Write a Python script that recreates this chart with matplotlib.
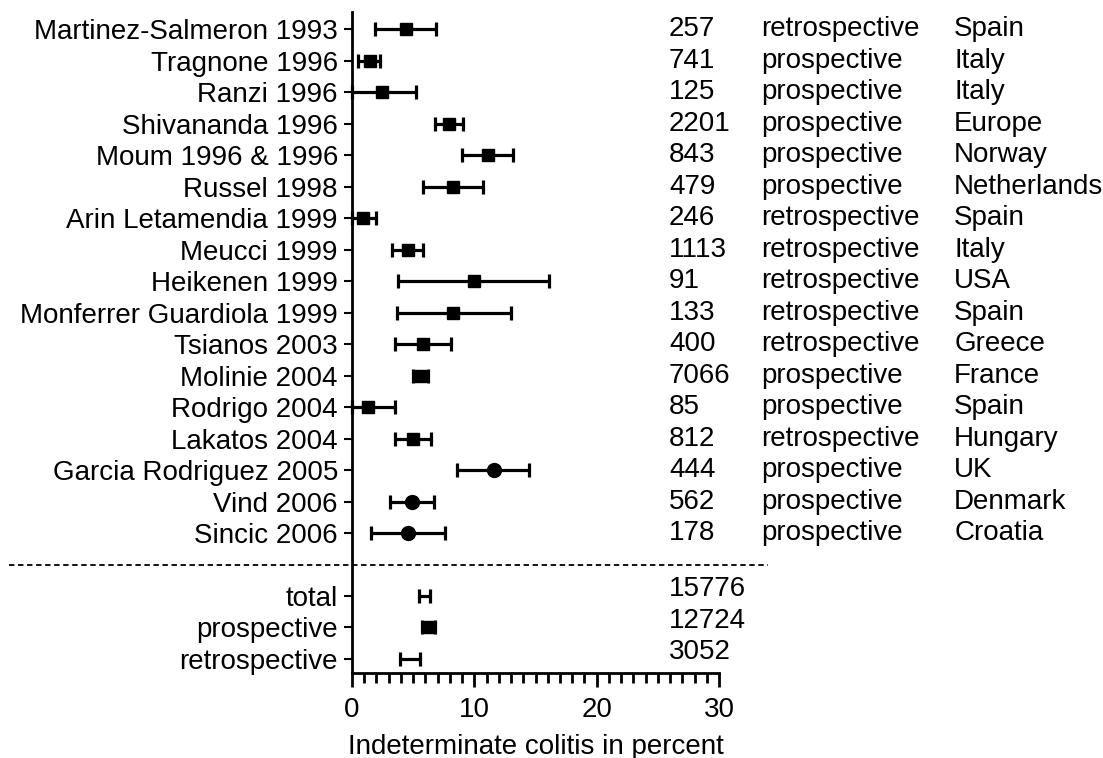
import numpy as np
import matplotlib
matplotlib.use("Agg")
import matplotlib.pyplot as plt
from matplotlib.ticker import MultipleLocator

plt.rcParams['font.family'] = ['Liberation Sans', 'DejaVu Sans']

# study data
studies = ["Martinez-Salmeron 1993", "Tragnone 1996", "Ranzi 1996", "Shivananda 1996",
           "Moum 1996 & 1996", "Russel 1998", "Arin Letamendia 1999", "Meucci 1999",
           "Heikenen 1999", "Monferrer Guardiola 1999", "Tsianos 2003", "Molinie 2004",
           "Rodrigo 2004", "Lakatos 2004", "Garcia Rodriguez 2005", "Vind 2006", "Sincic 2006"]
n_patients = [257, 741, 125, 2201, 843, 479, 246, 1113, 91, 133, 400, 7066, 85, 812, 444, 562, 178]
design = ["retrospective", "prospective", "prospective", "prospective", "prospective",
          "prospective", "retrospective", "retrospective", "retrospective", "retrospective",
          "retrospective", "prospective", "prospective", "retrospective", "prospective",
          "prospective", "prospective"]
country = ["Spain", "Italy", "Italy", "Europe", "Norway", "Netherlands", "Spain", "Italy",
           "USA", "Spain", "Greece", "France", "Spain", "Hungary", "UK", "Denmark", "Croatia"]
est = [4.4, 1.5, 2.5, 7.9, 11.1, 8.3, 0.9, 4.6, 10.0, 8.3, 5.8, 5.6, 1.3, 5.0, 11.6, 4.9, 4.6]
ci_lo = [1.9, 0.5, 0.0, 6.8, 9.0, 5.8, 0.0, 3.3, 3.8, 3.7, 3.5, 5.0, 0.0, 3.5, 8.6, 3.1, 1.55]
ci_hi = [6.85, 2.3, 5.2, 9.1, 13.2, 10.7, 2.0, 5.8, 16.1, 13.0, 8.1, 6.2, 3.5, 6.5, 14.5, 6.7, 7.6]
circle_studies = ["Garcia Rodriguez 2005", "Vind 2006", "Sincic 2006"]

# pooled rows
pooled = ["total", "prospective", "retrospective"]
pooled_n = [15776, 12724, 3052]
pooled_est = [5.95, 6.27, 4.75]
pooled_lo = [5.5, 5.75, 3.9]
pooled_hi = [6.4, 6.8, 5.6]
pooled_marker = [False, True, False]

fig = plt.figure(figsize=(11.03, 7.58), dpi=100)
ax = fig.add_axes([0.319, 0.112, 0.333, 0.872])

fs = 20
lw = 2.3

ypos = np.arange(len(studies))
for i, name in enumerate(studies):
    mk = 'o' if name in circle_studies else 's'
    ms = 10 if mk == 'o' else 8
    ax.errorbar(est[i], ypos[i], xerr=[[est[i] - ci_lo[i]], [ci_hi[i] - est[i]]],
                fmt=mk, color='black', ms=ms, elinewidth=lw, capsize=5, capthick=lw,
                clip_on=False, zorder=3)
    ax.text(25.9, ypos[i], str(n_patients[i]), fontsize=fs, va='center', ha='left', clip_on=False)
    ax.text(33.4, ypos[i], design[i], fontsize=fs, va='center', ha='left', clip_on=False)
    ax.text(49.2, ypos[i], country[i], fontsize=fs, va='center', ha='left', clip_on=False)

ypool = np.arange(len(pooled)) + len(studies) + 1
for j in range(len(pooled)):
    ax.errorbar(pooled_est[j], ypool[j], xerr=[[pooled_est[j] - pooled_lo[j]], [pooled_hi[j] - pooled_est[j]]],
                fmt='s' if pooled_marker[j] else 'none', color='black', ms=8,
                elinewidth=lw, capsize=5, capthick=lw, zorder=3)
    ax.text(25.9, ypool[j] - 0.22, str(pooled_n[j]), fontsize=fs, va='center', ha='left', clip_on=False)

# dashed separator across the whole width
ax.plot([-28, 34], [len(studies), len(studies)], ls=(0, (3, 2)), color='black', lw=1.3, clip_on=False)

ax.set_yticks(list(ypos) + list(ypool))
ax.set_yticklabels(studies + pooled, fontsize=fs)
ax.set_ylim(20.45, -0.55)
ax.set_xlim(0, 30)
ax.xaxis.set_major_locator(MultipleLocator(10))
ax.xaxis.set_minor_locator(MultipleLocator(1))
ax.tick_params(axis='x', which='major', length=10, width=2, labelsize=fs, pad=7)
ax.tick_params(axis='x', which='minor', length=7, width=2)
ax.tick_params(axis='y', length=6, width=1.5, pad=4)
ax.set_xlabel("Indeterminate colitis in percent", fontsize=fs, labelpad=8)

for s in ['top', 'right']:
    ax.spines[s].set_visible(False)
ax.spines['left'].set_linewidth(2)
ax.spines['bottom'].set_linewidth(2)

fig.savefig("out.png", dpi=100)
